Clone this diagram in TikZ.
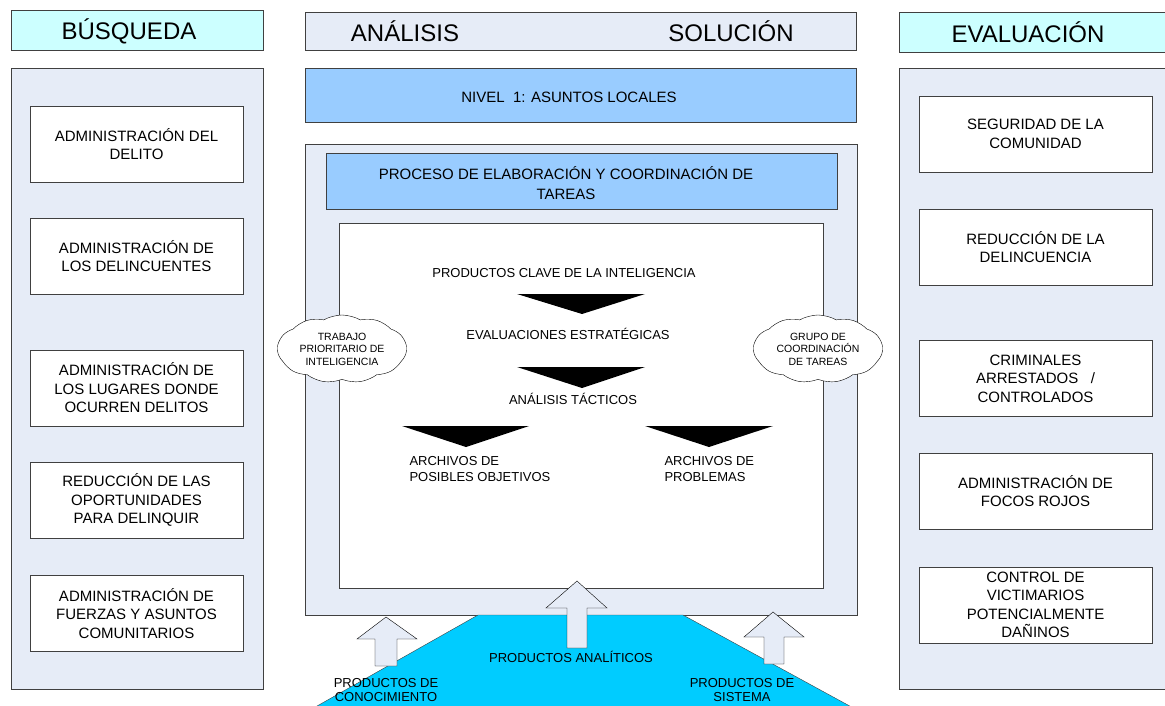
\documentclass[tikz,border=0pt]{standalone}
\usepackage{fontspec}
\setmainfont{Liberation Sans}
\usetikzlibrary{shapes.symbols}
\definecolor{cielo}{HTML}{CCFFFF}
\definecolor{lila}{HTML}{E6ECF7}
\definecolor{azul}{HTML}{99CCFF}
\definecolor{turq}{HTML}{00CCFF}
\definecolor{borde}{HTML}{404040}

\begin{document}
\begin{tikzpicture}[x=1pt,y=-1pt,
    cabecera/.style={draw=borde,fill=cielo},
    panel/.style={draw=borde,fill=lila},
    titulo/.style={font=\fontsize{24}{28}\selectfont},
    caja/.style={draw=borde,fill=white,minimum width=213pt,minimum height=76pt,
        inner sep=0pt,align=center,font=\fontsize{15}{18.5}\selectfont},
    cajader/.style={caja,minimum width=233pt},
    texto/.style={font=\fontsize{15}{20}\selectfont,align=center},
    chico/.style={font=\fontsize{13}{14}\selectfont,align=center},
    nube/.style={cloud,cloud puffs=11,cloud puff arc=60,cloud ignores aspect,
        draw=black,fill=white,minimum width=129pt,minimum height=68pt,
        inner sep=0pt,align=center,font=\fontsize{10.5}{12.5}\selectfont},
    punta/.style={fill=black},
    flecha/.style={draw=black,fill=lila}]
    \useasboundingbox (0,0) rectangle (1165,706);

    % cabeceras
    \draw[cabecera] (11,10) rectangle (263,50);
    \node[titulo] (busqueda) at (129,31) {BÚSQUEDA};
    \draw[panel] (305,12) rectangle (856,50);
    \node[titulo] (analisis) at (405,31) {ANÁLISIS};
    \node[titulo] (solucion) at (731,31) {SOLUCIÓN};
    \draw[cabecera] (899,12) rectangle (1172,52);
    \node[titulo] (evaluacion) at (1028,32) {EVALUACIÓN};

    % columna izquierda
    \draw[panel] (11,68) rectangle (263,689);
    \node[caja] (delito) at (136.5,144) {ADMINISTRACIÓN DEL\\DELITO};
    \node[caja] (delincuentes) at (136.5,256) {ADMINISTRACIÓN DE\\LOS DELINCUENTES};
    \node[caja] (lugares) at (136.5,388) {ADMINISTRACIÓN DE\\LOS LUGARES DONDE\\OCURREN DELITOS};
    \node[caja] (oportunidades) at (136.5,500) {REDUCCIÓN DE LAS\\OPORTUNIDADES\\PARA DELINQUIR};
    \node[caja] (fuerzas) at (136.5,613.5) {ADMINISTRACIÓN DE\\FUERZAS Y ASUNTOS\\COMUNITARIOS};

    % columna derecha
    \draw[panel] (899,68) rectangle (1172,689);
    \node[cajader] (seguridad) at (1035.5,134) {SEGURIDAD DE LA\\COMUNIDAD};
    \node[cajader] (reduccion) at (1035.5,247) {REDUCCIÓN DE LA\\DELINCUENCIA};
    \node[cajader] (criminales) at (1035.5,378.5) {CRIMINALES\\ARRESTADOS~~~/\\CONTROLADOS};
    \node[cajader] (focos) at (1035.5,491) {ADMINISTRACIÓN DE\\FOCOS ROJOS};
    \node[cajader] (victimarios) at (1035.5,605) {CONTROL DE\\VICTIMARIOS\\POTENCIALMENTE\\DAÑINOS};

    % centro
    \draw[draw=borde,fill=azul] (305,68) rectangle (856,122);
    \node[texto] (nivel) at (569,97) {NIVEL~~1: ASUNTOS LOCALES};
    \draw[panel] (305,144) rectangle (857,615);
    \draw[draw=borde,fill=azul] (326,153) rectangle (837,209);
    \node[texto] (proceso) at (566,183) {PROCESO DE ELABORACIÓN Y COORDINACIÓN DE\\TAREAS};
    \draw[draw=borde,fill=white] (339,223) rectangle (823,588);

    \node[chico] (clave) at (564,273) {PRODUCTOS CLAVE DE LA INTELIGENCIA};
    \fill[punta] (517,294) -- (645,294) -- (582,314) -- cycle;
    \node[chico] (estrategicas) at (568,334) {EVALUACIONES ESTRATÉGICAS};
    \fill[punta] (517,367) -- (645,367) -- (582,388) -- cycle;
    \node[chico] (tacticos) at (573,399) {ANÁLISIS TÁCTICOS};
    \fill[punta] (402,426) -- (529,426) -- (466,447) -- cycle;
    \fill[punta] (645,426) -- (773,426) -- (709,447) -- cycle;
    \node[chico,align=left,anchor=north west,font=\fontsize{13}{16}\selectfont] (objetivos) at (406,453) {ARCHIVOS DE\\POSIBLES OBJETIVOS};
    \node[chico,align=left,anchor=north west,font=\fontsize{13}{16}\selectfont] (problemas) at (661,453) {ARCHIVOS DE\\PROBLEMAS};

    \node[nube] (trabajo) at (342,349) {TRABAJO\\PRIORITARIO DE\\INTELIGENCIA};
    \node[nube] (grupo) at (818,349) {GRUPO DE\\COORDINACIÓN\\DE TAREAS};

    % base y flechas
    \filldraw[draw=borde,fill=turq] (478,615) -- (683,615) -- (857,710) -- (310,710) -- cycle;
    \filldraw[flecha] (577,581) -- (607,608) -- (587,608) -- (587,648) -- (567,648) -- (567,608) -- (546,608) -- cycle;
    \filldraw[flecha] (386,617) -- (417,639) -- (397,639) -- (397,666) -- (375,666) -- (375,639) -- (357,639) -- cycle;
    \filldraw[flecha] (773,612) -- (804,637) -- (784,637) -- (784,664) -- (764,664) -- (764,637) -- (744,637) -- cycle;
    \node[chico] (analiticos) at (571,657) {PRODUCTOS ANALÍTICOS};
    \node[chico] (conocimiento) at (386,690) {PRODUCTOS DE\\CONOCIMIENTO};
    \node[chico] (sistema) at (742,690) {PRODUCTOS DE\\SISTEMA};
\end{tikzpicture}
\end{document}
